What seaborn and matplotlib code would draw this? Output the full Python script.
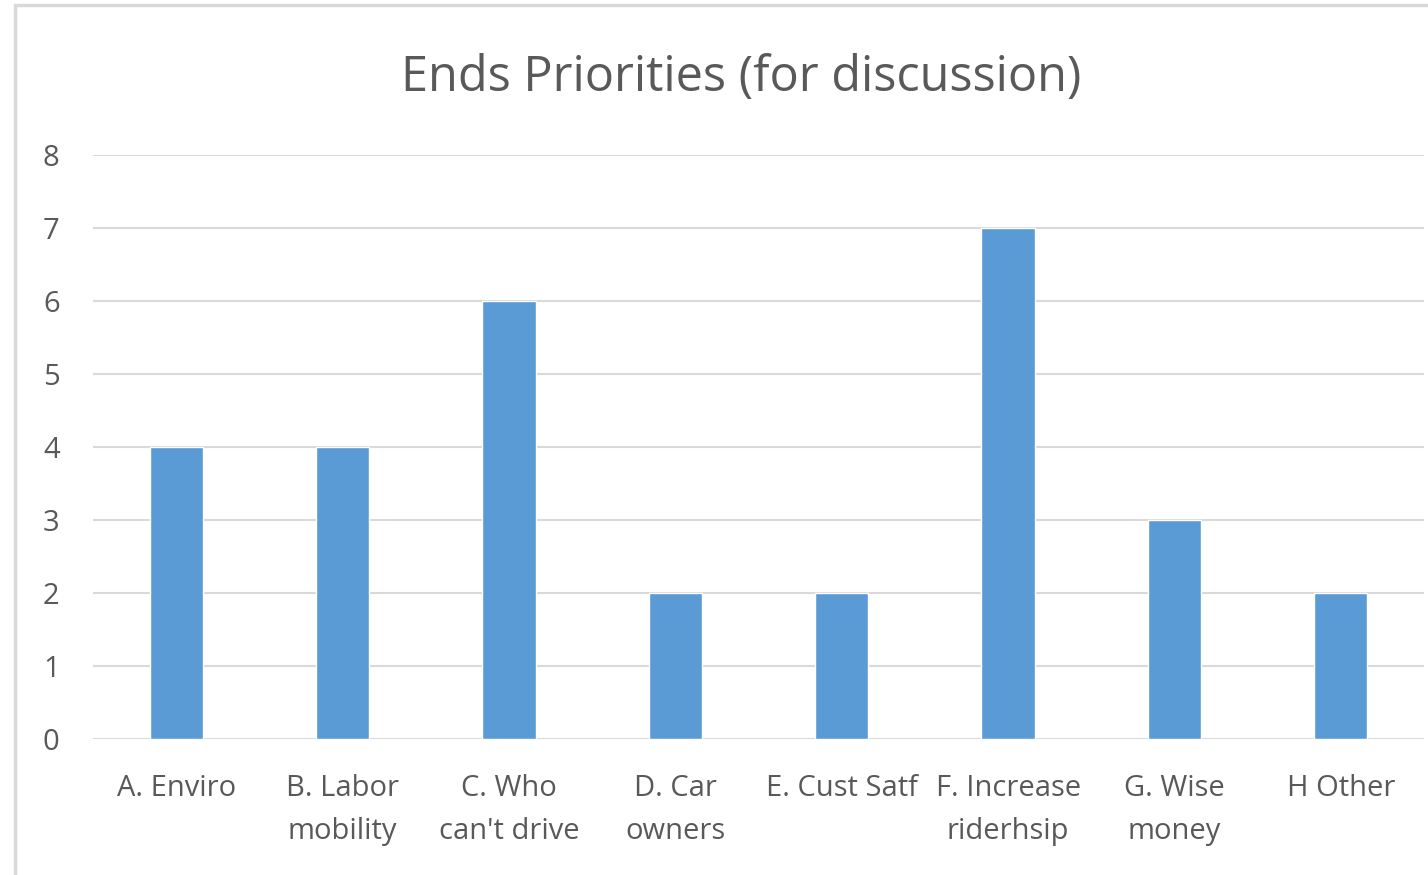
import matplotlib
matplotlib.use("Agg")
import matplotlib.pyplot as plt
import seaborn as sns
import pandas as pd
from matplotlib.patches import Rectangle

categories = ["A. Enviro", "B. Labor\nmobility", "C. Who\ncan't drive", "D. Car\nowners",
              "E. Cust Satf", "F. Increase\nriderhsip", "G. Wise\nmoney", "H Other"]
values = [4, 4, 6, 2, 2, 7, 3, 2]
title = "Ends Priorities (for discussion)"

sns.set_theme(style="white")
plt.rcParams['font.family'] = ['Open Sans', 'DejaVu Sans']

W, H = 1428, 875
fig = plt.figure(figsize=(W / 100, H / 100), dpi=100)
fig.patch.set_facecolor("white")

ax = fig.add_axes([93 / W, (H - 739) / H, (1424 - 93) / W, (739 - 155) / H])
df = pd.DataFrame({"cat": categories, "val": values})
sns.barplot(data=df, x="cat", y="val", color="#5B9BD5", width=0.32, saturation=1, ax=ax, zorder=3)

ax.set_ylim(0, 8)
ax.set_xlim(-0.5, len(categories) - 0.5)
ax.set_yticks(range(0, 9))
ax.grid(axis="y", color="#d9d9d9", linewidth=1.5, zorder=0)
ax.set_axisbelow(True)
for s in ax.spines.values():
    s.set_visible(False)
ax.set_xlabel("")
ax.set_ylabel("")
ax.tick_params(axis="both", length=0, colors="#595959", labelsize=21)
ax.tick_params(axis="x", pad=25)
ax.tick_params(axis="y", pad=24)
for lab in ax.get_xticklabels():
    lab.set_linespacing(1.65)
ax.set_facecolor("white")

fig.text(741 / W, 1 - 78 / H, title, ha="center", va="center", fontsize=35, color="#595959")

# chart border (top and left visible)
fig.patches.append(Rectangle((15 / W, -0.1), 1.2, (1 - 5 / H) + 0.1, transform=fig.transFigure,
                             fill=False, edgecolor="#d9d9d9", linewidth=2.5, zorder=0))

fig.savefig("out.png", dpi=100, facecolor="white")
